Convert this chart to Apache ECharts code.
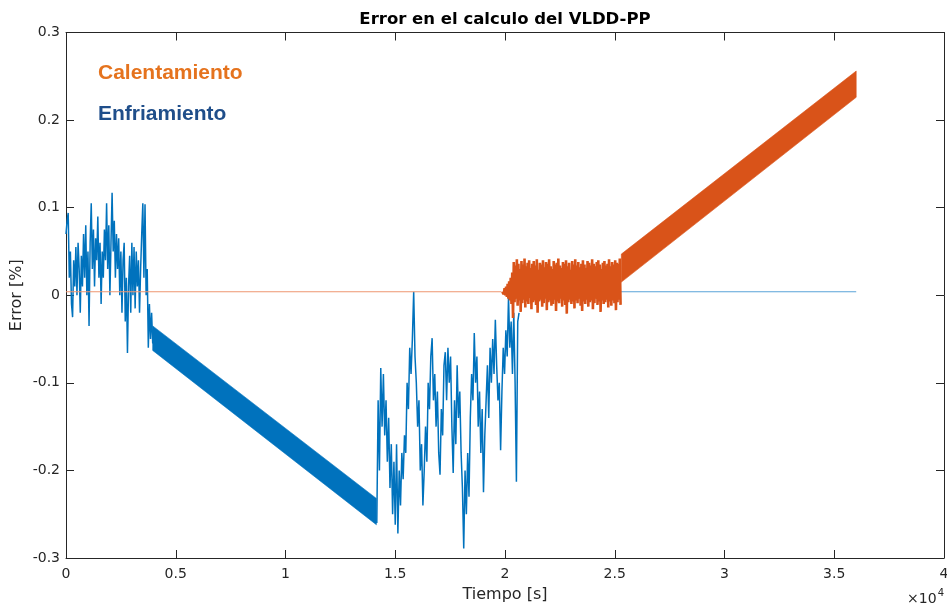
<!DOCTYPE html>
<html>
<head>
<meta charset="utf-8">
<script src="https://cdn.jsdelivr.net/npm/echarts@6/dist/echarts.min.js"></script>
<style>
  html, body { margin: 0; padding: 0; background: #ffffff; }
  #chart { width: 947px; height: 607px; }
</style>
</head>
<body>
<div id="chart"></div>
<script>
// Axis ticks (time in seconds, shown in units of 1e4)
const xTicks = [0, 5000, 10000, 15000, 20000, 25000, 30000, 35000, 40000];
const yTicks = [-0.3, -0.2, -0.1, 0, 0.1, 0.2, 0.3];

// Resting level of each curve while the other one is active
const restLevel = 0.004;

// Enfriamiento: noisy start (t = 0 .. 3950 s, every 50 s)
const enfNoiseStartT = 0;
const enfNoiseStep = 50;
const enfNoise = [
  0.07, 0.085, 0.094, 0.02, 0.05, -0.01, -0.025, 0.04, 0.01, 0.055,
  0.0, 0.06, 0.03, -0.02, 0.045, 0.01, 0.07, 0.02, 0.08, 0.0,
  0.05, -0.035, 0.06, 0.105, 0.03, 0.075, 0.01, 0.065, 0.04, 0.09,
  0.02, 0.06, -0.01, 0.05, 0.02, 0.075, 0.04, 0.105, 0.03, 0.08,
  0.0, 0.06, 0.117, 0.05, 0.085, 0.02, 0.07, 0.03, 0.065, 0.0,
  0.05, -0.02, 0.04, 0.06, -0.03, 0.02, -0.066, 0.01, 0.045, -0.02,
  0.06, 0.0, 0.055, -0.015, 0.05, 0.01, 0.04, -0.02, 0.03, 0.07,
  0.105, 0.02, 0.104, 0.0, 0.03, -0.06, -0.01, -0.05, -0.02, -0.055
];

// Enfriamiento: fast oscillating drift, drawn as its envelope
const enfBandT = [3950, 14140];
const enfBandUpper = [-0.035, -0.232];
const enfBandLower = [-0.063, -0.262];

// Enfriamiento: noisy recovery (t = 14160 s onwards, every 60 s)
const enfRecoveryStartT = 14160;
const enfRecoveryStep = 60;
const enfRecovery = [
  -0.26, -0.12, -0.20, -0.083, -0.15, -0.09, -0.16, -0.12, -0.19, -0.14,
  -0.22, -0.17, -0.25, -0.19, -0.262, -0.17, -0.272, -0.20, -0.24, -0.18,
  -0.21, -0.16, -0.18, -0.10, -0.13, -0.06, -0.09, -0.05, 0.004, -0.07,
  -0.10, -0.15, -0.12, -0.20, -0.17, -0.24, -0.20, -0.15, -0.19, -0.10,
  -0.13, -0.07, -0.049, -0.12, -0.09, -0.15, -0.11, -0.18, -0.205, -0.13,
  -0.16, -0.08, -0.065, -0.12, -0.06, -0.10, -0.07, -0.15, -0.203, -0.12,
  -0.17, -0.08, -0.14, -0.11, -0.18, -0.22, -0.289, -0.20, -0.25, -0.18,
  -0.23, -0.14, -0.09, -0.12, -0.043, -0.10, -0.07, -0.15, -0.11, -0.18,
  -0.13, -0.225, -0.16, -0.12, -0.08, -0.14, -0.06, -0.10, -0.05, -0.09,
  -0.028, -0.08, -0.12, -0.10, -0.177, -0.11, -0.06, -0.09, -0.04, -0.07,
  -0.002, -0.06, -0.03, -0.09, -0.02, -0.10, -0.213, -0.03, -0.02
];
const enfRestT = [20640, 36000];

// Calentamiento: resting before it starts
const calRestT = [0, 19840];

// Calentamiento: noisy plateau (t = 19875 s onwards, every 35 s)
const calNoiseStartT = 19875;
const calNoiseStep = 35;
const calNoise = [
  0.004, 0.006, 0.001, 0.008, 0.0, 0.010, -0.002, 0.013, -0.004, 0.016,
  -0.006, 0.020, -0.010, 0.026, -0.026,
  0.038, -0.008, 0.034, -0.004, 0.041, -0.012, 0.036, -0.006, 0.030, -0.019,
  0.039, -0.009, 0.035, -0.005, 0.042, -0.014, 0.033, -0.007, 0.037, -0.010,
  0.040, -0.003, 0.031, -0.016, 0.036, -0.008, 0.039, -0.006, 0.034, -0.011,
  0.041, -0.020, 0.029, -0.007, 0.037, -0.005, 0.035, -0.013, 0.040, -0.009,
  0.032, -0.004, 0.038, -0.017, 0.036, -0.008, 0.041, -0.006, 0.033, -0.012,
  0.030, -0.010, 0.039, -0.005, 0.035, -0.018, 0.037, -0.007, 0.042, -0.009,
  0.034, -0.004, 0.031, -0.013, 0.038, -0.006, 0.036, -0.011, 0.040, -0.021,
  0.033, -0.008, 0.037, -0.005, 0.029, -0.010, 0.039, -0.007, 0.035, -0.015,
  0.041, -0.006, 0.034, -0.009, 0.038, -0.004, 0.032, -0.012, 0.036, -0.018,
  0.040, -0.007, 0.035, -0.010, 0.031, -0.005, 0.039, -0.013, 0.037, -0.008,
  0.034, -0.006, 0.041, -0.016, 0.036, -0.009, 0.033, -0.004, 0.038, -0.011,
  0.040, -0.007, 0.035, -0.019, 0.030, -0.006, 0.037, -0.010, 0.039, -0.008,
  0.034, -0.005, 0.036, -0.014, 0.041, -0.007, 0.033, -0.012, 0.038, -0.006,
  0.035, -0.009, 0.040, -0.017, 0.037, -0.008, 0.036, -0.005, 0.042, -0.011
];

// Calentamiento: fast oscillating rise, drawn as its envelope
const calBandT = [25300, 36000];
const calBandUpper = [0.047, 0.256];
const calBandLower = [0.015, 0.226];

const BLUE = '#0072BD';
const ORANGE = '#D95319';
const AXIS = '#262626';
const FONT = 'DejaVu Sans';

function sampled(startT, step, values) {
  return values.map((v, i) => [startT + i * step, v]);
}

function envelope(name, tArr, lower, upper, color) {
  return {
    name: name,
    type: 'custom',
    coordinateSystem: 'cartesian2d',
    xAxisIndex: 0,
    yAxisIndex: 0,
    silent: true,
    clip: true,
    data: tArr.map((t, i) => [t, lower[i], upper[i]]),
    encode: { x: 0, y: [1, 2] },
    renderItem: function (params, api) {
      if (params.dataIndex !== 0) return null;
      const pts = [];
      for (let i = 0; i < tArr.length; i++) pts.push(api.coord([tArr[i], upper[i]]));
      for (let i = tArr.length - 1; i >= 0; i--) pts.push(api.coord([tArr[i], lower[i]]));
      return { type: 'polygon', shape: { points: pts }, style: { fill: color, stroke: color, lineWidth: 0.6 } };
    }
  };
}

const enfTrace = sampled(enfNoiseStartT, enfNoiseStep, enfNoise);
const enfRecoveryTrace = sampled(enfRecoveryStartT, enfRecoveryStep, enfRecovery);

const lineBase = {
  type: 'line', showSymbol: false, symbol: 'none', silent: true,
  animation: false, xAxisIndex: 0, yAxisIndex: 0, clip: true, sampling: null
};

const xFmt = v => String(+(v / 10000).toFixed(1));
const yFmt = v => String(+v.toFixed(1));

const valueAxisCommon = {
  type: 'value',
  splitLine: { show: false },
  axisLine: { show: true, onZero: false, lineStyle: { color: AXIS, width: 1 } },
  axisTick: { show: true, inside: true, length: 8, lineStyle: { color: AXIS, width: 1 } }
};

const option = {
  animation: false,
  backgroundColor: '#ffffff',
  title: {
    text: 'Error en el calculo del VLDD-PP',
    left: 505,
    top: 11,
    textAlign: 'center',
    padding: 0,
    textStyle: { fontFamily: FONT, fontWeight: 'bold', fontSize: 16.5, color: '#000000' }
  },
  grid: { left: 66, right: 3, top: 32.5, bottom: 49, containLabel: false, outerBoundsMode: 'none' },
  xAxis: [
    Object.assign({}, valueAxisCommon, {
      position: 'bottom', min: xTicks[0], max: xTicks[xTicks.length - 1],
      interval: xTicks[1] - xTicks[0],
      axisLabel: { formatter: xFmt, color: AXIS, fontFamily: FONT, fontSize: 14, margin: 9 },
      name: 'Tiempo [s]', nameLocation: 'middle', nameGap: 29,
      nameTextStyle: { fontFamily: FONT, fontSize: 16, color: AXIS }
    }),
    Object.assign({}, valueAxisCommon, {
      position: 'top', min: xTicks[0], max: xTicks[xTicks.length - 1],
      interval: xTicks[1] - xTicks[0],
      axisLabel: { show: false }
    })
  ],
  yAxis: [
    Object.assign({}, valueAxisCommon, {
      position: 'left', min: yTicks[0], max: yTicks[yTicks.length - 1],
      interval: 0.1,
      axisLabel: { formatter: yFmt, color: AXIS, fontFamily: FONT, fontSize: 14, margin: 6 },
      name: 'Error [%]', nameLocation: 'middle', nameGap: 41, nameMoveOverlap: false,
      nameTextStyle: { fontFamily: FONT, fontSize: 16, color: AXIS }
    }),
    Object.assign({}, valueAxisCommon, {
      position: 'right', min: yTicks[0], max: yTicks[yTicks.length - 1],
      interval: 0.1,
      axisLabel: { show: false }
    })
  ],
  graphic: [
    {
      type: 'text', left: 98, top: 63, silent: true,
      style: { text: 'Calentamiento', fill: '#E5731E', font: 'bold 21px "Liberation Sans", Arial, sans-serif' }
    },
    {
      type: 'text', left: 98, top: 104, silent: true,
      style: { text: 'Enfriamiento', fill: '#1F4E8A', font: 'bold 21px "Liberation Sans", Arial, sans-serif' }
    },
    {
      type: 'text', right: 3, top: 588, silent: true,
      style: {
        text: '{a|×10}{b|4}',
        rich: {
          a: { fontFamily: FONT, fontSize: 14, fill: AXIS, verticalAlign: 'bottom', lineHeight: 18 },
          b: { fontFamily: FONT, fontSize: 10, fill: AXIS, verticalAlign: 'top', lineHeight: 18, padding: [0, 0, 8, 1] }
        }
      }
    }
  ],
  series: [
    Object.assign({}, lineBase, {
      name: 'Enfriamiento',
      data: enfTrace,
      lineStyle: { color: BLUE, width: 1.5 }
    }),
    envelope('Enfriamiento', enfBandT, enfBandLower, enfBandUpper, BLUE),
    Object.assign({}, lineBase, {
      name: 'Enfriamiento',
      data: enfRecoveryTrace,
      lineStyle: { color: BLUE, width: 1.5 }
    }),
    Object.assign({}, lineBase, {
      name: 'Enfriamiento',
      data: [[enfRestT[0], restLevel], [enfRestT[1], restLevel]],
      lineStyle: { color: '#5AA3D8', width: 1.2 }
    }),
    Object.assign({}, lineBase, {
      name: 'Calentamiento',
      data: [[calRestT[0], restLevel], [calRestT[1], restLevel]],
      lineStyle: { color: '#EE9670', width: 1.2 }
    }),
    Object.assign({}, lineBase, {
      name: 'Calentamiento',
      data: sampled(calNoiseStartT, calNoiseStep, calNoise),
      lineStyle: { color: ORANGE, width: 2.6 }
    }),
    envelope('Calentamiento', calBandT, calBandLower, calBandUpper, ORANGE)
  ]
};

const chart = echarts.init(document.getElementById('chart'), null, { renderer: 'canvas' });
chart.setOption(option);
</script>
</body>
</html>
